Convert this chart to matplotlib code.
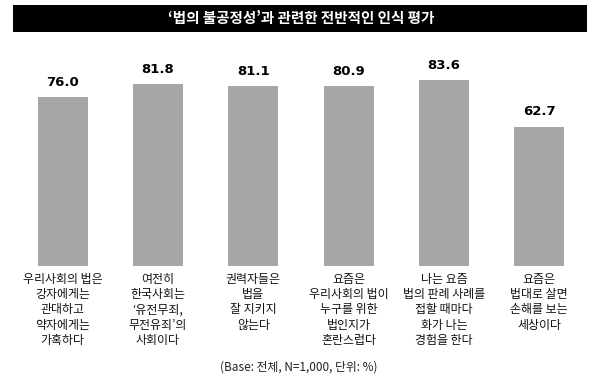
import matplotlib
matplotlib.use("Agg")
import matplotlib.pyplot as plt
from matplotlib.patches import Rectangle

plt.rcParams['font.family'] = ['Noto Sans CJK KR', 'DejaVu Sans']

title = "‘법의 불공정성’과 관련한 전반적인 인식 평가"
categories = [
    "우리사회의 법은\n강자에게는\n관대하고\n약자에게는\n가혹하다",
    "여전히\n한국사회는\n‘유전무죄,\n무전유죄’의\n사회이다",
    "권력자들은\n법을\n잘 지키지\n않는다",
    "요즘은\n우리사회의 법이\n누구를 위한\n법인지가\n혼란스럽다",
    "나는 요즘\n법의 판례 사례를\n접할 때마다\n화가 나는\n경험을 한다",
    "요즘은\n법대로 살면\n손해를 보는\n세상이다",
]
values = [76.0, 81.8, 81.1, 80.9, 83.6, 62.7]
footnote = "(Base: 전체, N=1,000, 단위: %)"

W, H = 600, 384
fig = plt.figure(figsize=(W / 100, H / 100), dpi=100)

# title box
fig.patches.append(Rectangle((13 / W, 1 - 32 / H), (587 - 13) / W, 27 / H,
                             transform=fig.transFigure, facecolor='black',
                             edgecolor='none', zorder=0))
fig.text(301 / W, 1 - 18.5 / H, title, color='white', fontsize=10.5,
         fontweight='bold', ha='center', va='center')

ax_bottom = 266
ax_top = 40
ax = fig.add_axes([0, 1 - ax_bottom / H, 1, (ax_bottom - ax_top) / H])
px_per_unit = 2.22
ax.set_ylim(0, (ax_bottom - ax_top) / px_per_unit)
step = 95.36
ax.set_xlim(-62.5 / step, (W - 62.5) / step)

x = list(range(len(values)))
ax.bar(x, values, width=50 / step, color='#a6a6a6')
for xi, v in zip(x, values):
    ax.annotate(f"{v:.1f}", (xi, v), xytext=(0, 6), textcoords='offset points',
                ha='center', va='bottom', fontsize=9.5, fontweight='bold',
                family=['DejaVu Sans'], color='black')

ax.set_xticks(x)
ax.set_xticklabels(categories, fontsize=8.6, linespacing=1.22, color='#111111')
ax.tick_params(axis='x', length=0, pad=5)
ax.set_yticks([])
for s in ax.spines.values():
    s.set_visible(False)

fig.text(299 / W, 1 - 367 / H, footnote, fontsize=8.5, ha='center',
         va='center', color='#222222')

fig.savefig("out.png", dpi=100)
